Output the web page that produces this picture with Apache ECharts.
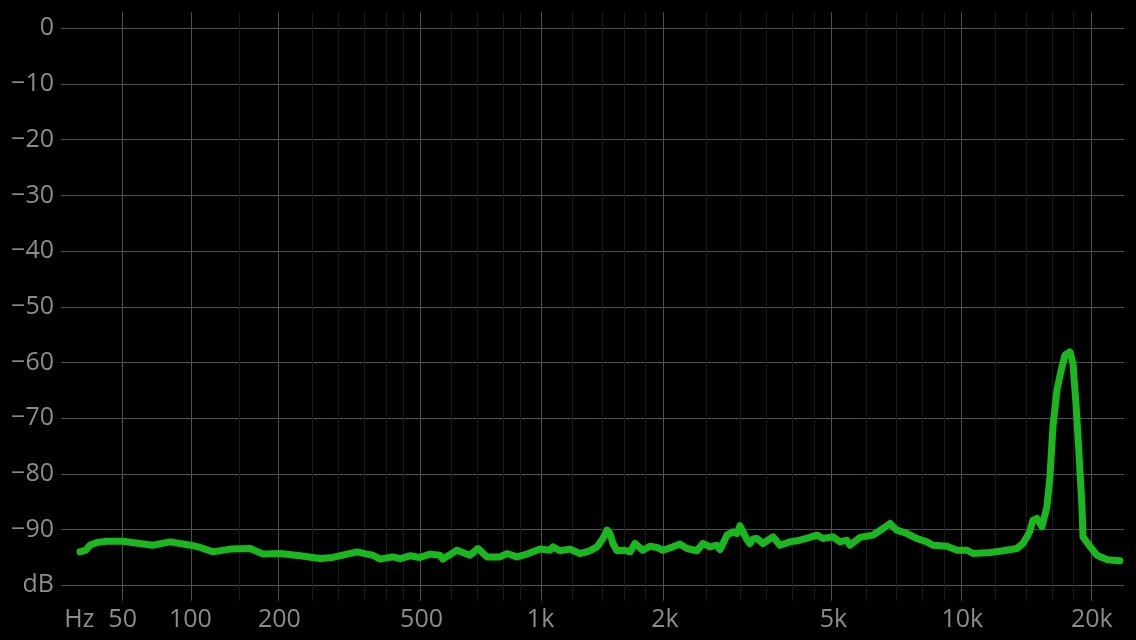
<!DOCTYPE html>
<html>
<head>
<meta charset="utf-8">
<script src="https://cdn.jsdelivr.net/npm/echarts@6/dist/echarts.min.js"></script>
<style>
html,body{margin:0;padding:0;background:#000;}
#chart{width:1136px;height:640px;}
</style>
</head>
<body>
<div id="chart"></div>
<script>
// ---- data ----
const FREQ_HZ = [26.6, 29.6, 31.6, 35.3, 40.8, 50, 61, 70, 83, 100, 109, 121, 139, 162, 178, 201, 231, 264, 287, 336, 357, 371, 388, 420, 439, 466, 495, 526, 558, 568, 617, 666, 698, 736, 793, 826, 874, 926, 997, 1055, 1073, 1116, 1180, 1249, 1320, 1373, 1420, 1452, 1476, 1501, 1535, 1604, 1650, 1696, 1772, 1842, 1915, 1979, 2091, 2173, 2258, 2385, 2464, 2560, 2660, 2704, 2809, 2902, 2966, 3015, 3132, 3183, 3236, 3307, 3416, 3607, 3746, 3955, 4175, 4407, 4576, 4727, 4989, 5181, 5381, 5468, 5771, 6189, 6532, 6782, 7042, 7431, 7841, 8274, 8545, 9211, 9718, 10253, 10589, 11599, 12435, 13402, 13839, 14139, 14368, 14598, 14916, 15320, 15734, 15989, 16248, 16599, 17048, 17324, 17795, 18082, 18374, 18672, 18974, 19076, 19802, 20558, 21685, 23246];
const LEVEL_DB = [-94.0, -93.7, -92.8, -92.3, -92.1, -92.1, -92.5, -92.8, -92.2, -92.8, -93.2, -94.0, -93.5, -93.4, -94.4, -94.3, -94.7, -95.2, -95.0, -94.0, -94.4, -94.6, -95.3, -94.9, -95.2, -94.7, -95.0, -94.4, -94.6, -95.3, -93.7, -94.6, -93.4, -94.9, -94.9, -94.3, -94.9, -94.4, -93.5, -93.7, -93.1, -93.8, -93.5, -94.3, -93.8, -93.1, -91.6, -90.1, -90.7, -92.5, -93.8, -93.7, -94.0, -92.5, -93.7, -93.0, -93.2, -93.7, -93.1, -92.6, -93.4, -93.8, -92.5, -93.1, -92.8, -93.6, -91.0, -90.4, -90.7, -89.3, -91.8, -92.5, -91.7, -91.6, -92.5, -91.3, -92.8, -92.2, -91.9, -91.4, -91.0, -91.6, -91.3, -92.2, -91.9, -92.8, -91.4, -91.0, -89.8, -88.9, -90.1, -90.7, -91.6, -92.2, -92.8, -93.0, -93.7, -93.7, -94.3, -94.1, -93.8, -93.4, -92.5, -91.3, -90.2, -88.3, -88.0, -89.5, -85.9, -80.5, -71.5, -64.9, -60.8, -58.7, -58.1, -60.1, -67.3, -76.3, -85.9, -91.3, -93.0, -94.6, -95.4, -95.6];

const X_MIN_HZ = 26.3;
const X_MAX_HZ = 23750;
const X_TICK_HZ = [26.3, 50, 100, 200, 500, 1000, 2000, 5000, 10000, 20000];
const X_TICK_LABELS = ['Hz', '50', '100', '200', '500', '1k', '2k', '5k', '10k', '20k'];
const X_MINOR_HZ = [150, 250, 300, 350, 400, 450, 600, 700, 800, 900, 1200, 1400, 1600, 1800, 2500, 3000, 3500, 4000, 4500, 6000, 7000, 8000, 9000, 12000, 14000, 16000, 18000];
const Y_MIN = -100, Y_MAX = 0, Y_STEP = 10;
const Y_BOTTOM_LABEL = 'dB';

// ---- frequency scale (compressed log) ----
const OFFSET = 65;
const toU = f => Math.log10(f + OFFSET);
const U_MIN = toU(X_MIN_HZ), U_MAX = toU(X_MAX_HZ);
const tickU = X_TICK_HZ.map(toU);

const TEXT = {color: '#8c8c8c', fontSize: 25, fontFamily: 'Open Sans'};
const MAJOR = '#505050', MINOR = '#1a1a1a';

function vLines(list, color) {
  return {
    type: 'line', xAxisIndex: 2, yAxisIndex: 2, data: [[U_MIN, -5]], symbol: 'none',
    lineStyle: {opacity: 0}, silent: true, animation: false, z: 1,
    markLine: {
      silent: true, symbol: ['none', 'none'], animation: false,
      label: {show: false},
      lineStyle: {type: 'solid', color: color, width: 1},
      emphasis: {disabled: true},
      data: list.map(f => ({xAxis: toU(f)}))
    }
  };
}

const chart = echarts.init(document.getElementById('chart'), null, {renderer: 'canvas'});
chart.setOption({
  backgroundColor: '#000',
  animation: false,
  grid: [
    {left: 61, right: 12, top: 28.3, bottom: 54.7},
    {left: 79.3, right: 12, top: 28.3, bottom: 54.7},
    {left: 79.3, right: 12, top: 12.3, bottom: 39.3}
  ],
  xAxis: [
    {gridIndex: 0, type: 'value', show: false, min: 0, max: 1},
    {gridIndex: 1, type: 'value', show: false, min: U_MIN, max: U_MAX},
    {gridIndex: 2, type: 'value', min: U_MIN, max: U_MAX,
     axisLine: {show: false}, axisTick: {show: false}, splitLine: {show: false},
     axisLabel: Object.assign({
       customValues: tickU, margin: 7, showMinLabel: true, showMaxLabel: true,
       formatter: function (v) {
         let best = 0, d = Infinity;
         tickU.forEach((t, i) => { const e = Math.abs(t - v); if (e < d) { d = e; best = i; } });
         return X_TICK_LABELS[best];
       }
     }, TEXT)}
  ],
  yAxis: [
    {gridIndex: 0, type: 'value', min: Y_MIN, max: Y_MAX, interval: Y_STEP,
     axisLine: {show: false}, axisTick: {show: false},
     splitLine: {show: true, lineStyle: {color: MAJOR, width: 1}},
     axisLabel: Object.assign({
       margin: 7,
       formatter: v => v === Y_MIN ? Y_BOTTOM_LABEL : (v < 0 ? '\u2212' + Math.abs(v) : String(v))
     }, TEXT)},
    {gridIndex: 1, type: 'value', min: Y_MIN, max: Y_MAX, show: false},
    {gridIndex: 2, type: 'value', min: 0, max: 1, show: false}
  ],
  series: [
    vLines(X_MINOR_HZ, MINOR),
    vLines(X_TICK_HZ, MAJOR),
    {
      type: 'line', xAxisIndex: 1, yAxisIndex: 1, z: 5,
      data: FREQ_HZ.map((f, i) => [toU(f), LEVEL_DB[i]]),
      symbol: 'none', showSymbol: false, smooth: false,
      lineStyle: {color: '#1ab81e', width: 7, join: 'round', cap: 'round'},
      silent: true
    }
  ]
});
</script>
</body>
</html>
